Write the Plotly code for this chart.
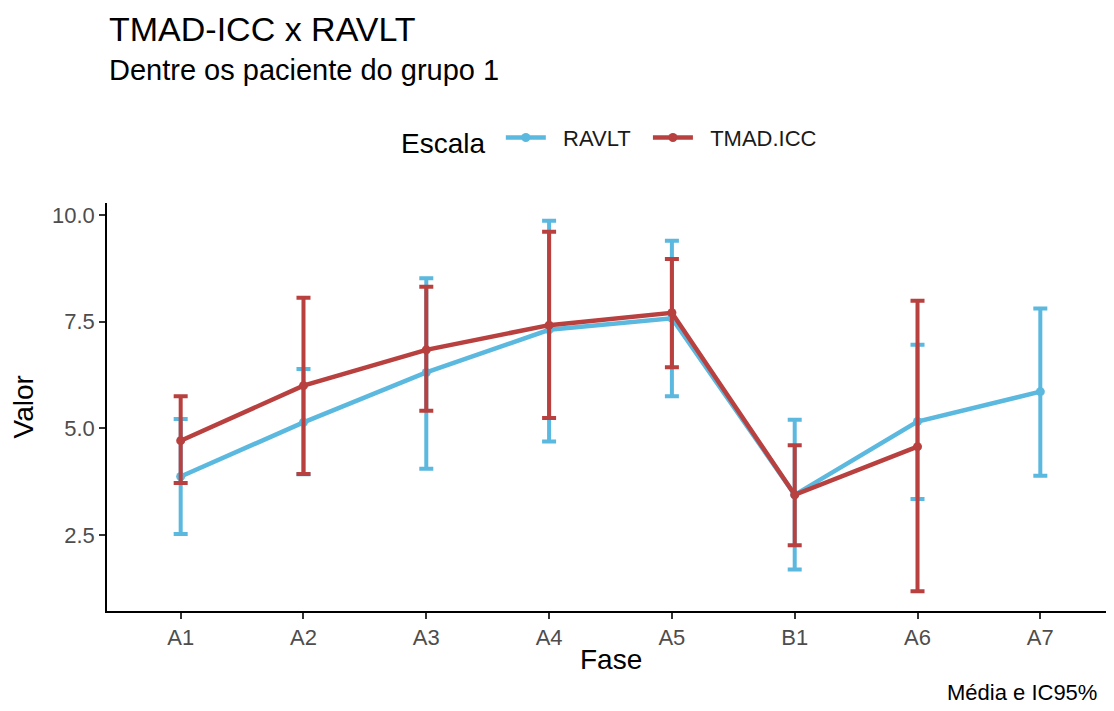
import plotly.graph_objects as go

fases = ["A1", "A2", "A3", "A4", "A5", "B1", "A6", "A7"]

ravlt_mean = [3.87, 5.14, 6.31, 7.31, 7.58, 3.44, 5.16, 5.86]
ravlt_low = [2.52, 3.92, 4.05, 4.69, 5.75, 1.69, 3.34, 3.89]
ravlt_high = [5.22, 6.39, 8.52, 9.87, 9.40, 5.20, 6.96, 7.81]

tmad_fases = ["A1", "A2", "A3", "A4", "A5", "B1", "A6"]
tmad_mean = [4.71, 6.00, 6.84, 7.42, 7.71, 3.44, 4.57]
tmad_low = [3.72, 3.93, 5.41, 5.24, 6.43, 2.26, 1.18]
tmad_high = [5.75, 8.06, 8.32, 9.61, 8.97, 4.60, 7.99]

BLUE = "#5BB8DE"
RED = "#B8403F"
FONT = "Liberation Sans, Arial, sans-serif"
NB = "\u00a0"

fig = go.Figure()

def add_series(name, label, xs, mean, low, high, color):
    fig.add_trace(go.Scatter(
        x=xs, y=mean, name=label, mode="lines+markers",
        line=dict(color=color, width=4.5),
        marker=dict(color=color, size=9),
        error_y=dict(
            type="data", symmetric=False,
            array=[h - m for h, m in zip(high, mean)],
            arrayminus=[m - l for m, l in zip(mean, low)],
            color=color, thickness=4, width=7,
        ),
        hovertemplate=name + ": %{y}<extra></extra>",
    ))

add_series("RAVLT", NB * 2 + "RAVLT" + NB * 2, fases, ravlt_mean, ravlt_low, ravlt_high, BLUE)
add_series("TMAD.ICC", NB * 2 + "TMAD.ICC", tmad_fases, tmad_mean, tmad_low, tmad_high, RED)

fig.update_layout(
    width=1106, height=703,
    margin=dict(l=99, r=0, t=195, b=100),
    paper_bgcolor="white", plot_bgcolor="white",
    font=dict(family=FONT, color="#000000"),
    showlegend=True,
    legend=dict(
        orientation="h", x=0.5, xanchor="center", y=1.154, yanchor="middle",
        title=dict(text="Escala" + NB, font=dict(size=28, color="#000000")),
        font=dict(size=22, color="#1a1a1a"),
        itemwidth=40,
    ),
    xaxis=dict(
        type="category", categoryorder="array", categoryarray=fases,
        range=[-0.6, 7.6], showline=True, linecolor="#000000", linewidth=1.5,
        ticks="outside", ticklen=6, tickcolor="#333333", tickwidth=1.5,
        tickfont=dict(size=22, color="#4d4d4d"), showgrid=False, zeroline=False,
    ),
    yaxis=dict(
        range=[0.715, 10.285], tickvals=[2.5, 5.0, 7.5, 10.0],
        ticktext=["2.5", "5.0", "7.5", "10.0"],
        showline=True, linecolor="#000000", linewidth=1.5,
        ticks="outside", ticklen=6, tickcolor="#333333", tickwidth=1.5,
        tickfont=dict(size=22, color="#4d4d4d"), showgrid=False, zeroline=False,
    ),
    annotations=[
        dict(text="TMAD-ICC x RAVLT", xref="paper", yref="paper", x=0, y=1.426,
             xanchor="left", yanchor="middle", showarrow=False,
             font=dict(size=34, color="#000000")),
        dict(text="Dentre os paciente do grupo 1", xref="paper", yref="paper", x=0, y=1.326,
             xanchor="left", yanchor="middle", showarrow=False,
             font=dict(size=29, color="#000000")),
        dict(text="Valor", xref="paper", yref="paper", x=-0.083, y=0.5,
             xanchor="center", yanchor="middle", textangle=-90, showarrow=False,
             font=dict(size=28, color="#000000")),
        dict(text="Fase", xref="paper", yref="paper", x=0.5, y=-0.12,
             xanchor="center", yanchor="middle", showarrow=False,
             font=dict(size=28, color="#000000")),
        dict(text="Média e IC95%", xref="paper", yref="paper", x=0.985, y=-0.199,
             xanchor="right", yanchor="middle", showarrow=False,
             font=dict(size=22, color="#000000")),
    ],
)

fig.write_html("out.html")
